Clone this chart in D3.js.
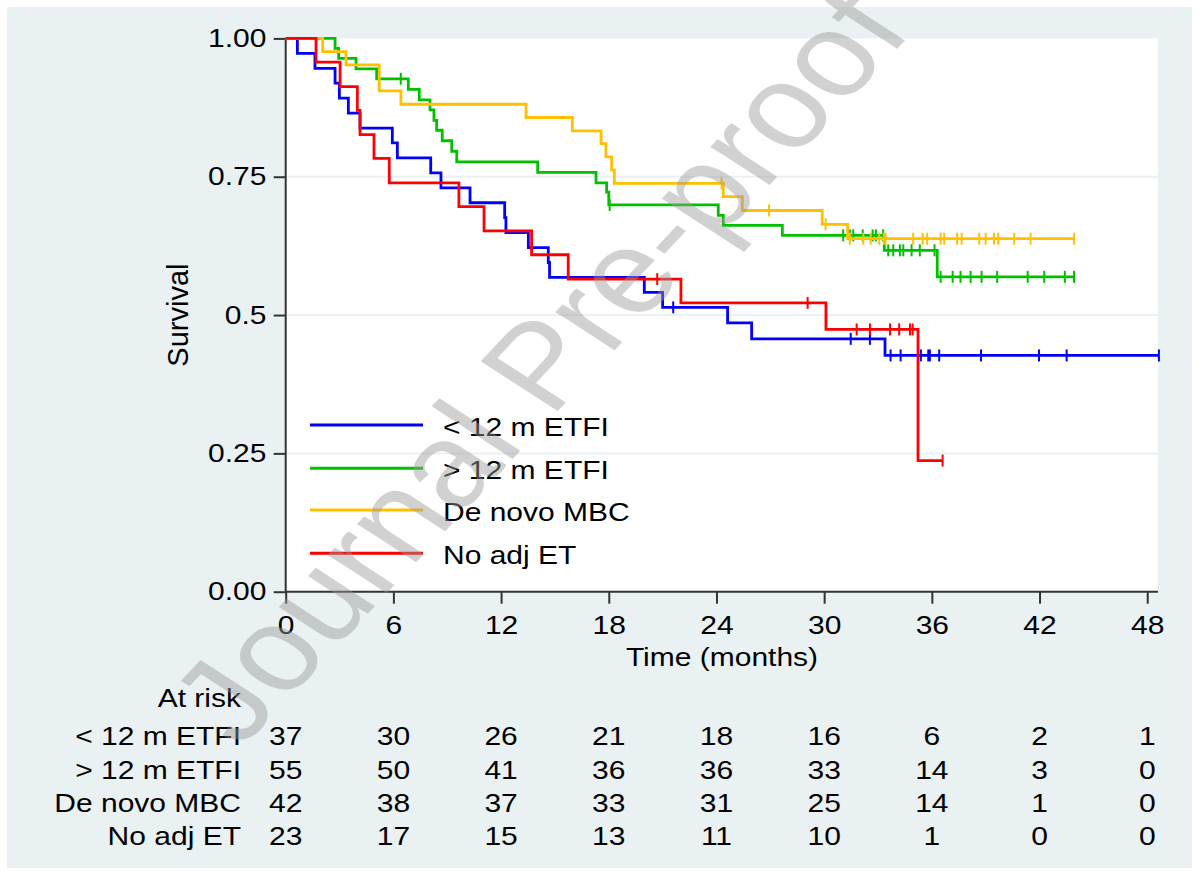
<!DOCTYPE html>
<html>
<head>
<meta charset="utf-8">
<script src="https://cdn.jsdelivr.net/npm/d3@7"></script>
<style>
  html, body { margin: 0; padding: 0; background: #ffffff; }
  svg { display: block; }
  text { font-family: "Liberation Sans", Arial, sans-serif; fill: #000; }
</style>
</head>
<body>
<svg id="chart" width="1199" height="874"></svg>
<script>
// ---------------- data ----------------
const groups = ["< 12 m ETFI", "> 12 m ETFI", "De novo MBC", "No adj ET"];

// Kaplan-Meier event times (months) and survival after each event
const etfiShortTimes = [0.65, 1.63, 2.75, 2.99, 3.49, 4.14, 5.94, 6.22, 8.08, 8.65, 10.27, 12.20, 12.27, 13.52, 14.63, 14.70, 19.98, 21.0, 24.62, 25.96, 33.39];
const etfiShortSurv  = [0.973, 0.946, 0.919, 0.892, 0.865, 0.838, 0.811, 0.784, 0.757, 0.730, 0.703, 0.676, 0.649, 0.622, 0.595, 0.568, 0.541, 0.514, 0.486, 0.457, 0.427];
const etfiShortCensor = [21.59, 31.48, 32.55, 33.7, 34.26, 35.39, 35.8, 35.89, 36.41, 38.74, 41.97, 43.51, 48.65];

const etfiLongTimes = [2.75, 2.95, 3.92, 5.07, 6.83, 7.44, 8.04, 8.26, 8.41, 8.72, 9.25, 9.53, 14.04, 17.29, 17.88, 18.0, 24.1, 24.38, 27.67, 33.35, 36.3];
const etfiLongSurv  = [0.982, 0.964, 0.945, 0.927, 0.908, 0.889, 0.871, 0.852, 0.834, 0.815, 0.796, 0.777, 0.758, 0.739, 0.722, 0.699, 0.680, 0.662, 0.644, 0.617, 0.569];
const etfiLongCensor = [6.41, 18.05, 31.06, 31.43, 31.62, 32.15, 32.7, 32.88, 33.29, 33.57, 33.85, 34.22, 34.41, 34.87, 35.33, 36.15, 36.49, 37.16, 37.6, 38.16, 38.77, 39.64, 41.34, 42.26, 43.41, 43.92];

const deNovoTimes = [2.06, 3.36, 5.21, 6.42, 13.39, 15.97, 17.57, 17.84, 18.16, 18.31, 24.38, 25.44, 29.89, 31.31];
const deNovoSurv  = [0.976, 0.952, 0.905, 0.881, 0.857, 0.833, 0.810, 0.786, 0.762, 0.738, 0.714, 0.689, 0.664, 0.638];
const deNovoCensor = [24.29, 26.93, 30.08, 31.43, 32.18, 32.59, 33.07, 33.33, 33.42, 34.96, 35.49, 35.74, 36.49, 36.69, 37.41, 37.66, 38.64, 39.0, 39.46, 39.7, 40.59, 41.5, 43.93];

const noAdjTimes = [1.69, 3.03, 3.99, 4.14, 4.92, 5.77, 9.65, 11.05, 13.7, 15.74, 22.02, 30.1, 35.23];
const noAdjSurv  = [0.957, 0.913, 0.870, 0.826, 0.783, 0.739, 0.696, 0.652, 0.609, 0.565, 0.522, 0.474, 0.237];
const noAdjCensor = [20.7, 29.08, 31.81, 32.55, 33.67, 34.18, 34.78, 34.93, 36.6];

// axis ticks
const xTicks = [0, 6, 12, 18, 24, 30, 36, 42, 48];
const yTicks = [0, 0.25, 0.5, 0.75, 1];
const yTickLabels = ["0.00", "0.25", "0.5", "0.75", "1.00"];

// numbers at risk at each x tick
const atRiskShort  = [37, 30, 26, 21, 18, 16, 6, 2, 1];
const atRiskLong   = [55, 50, 41, 36, 36, 33, 14, 3, 0];
const atRiskDeNovo = [42, 38, 37, 33, 31, 25, 14, 1, 0];
const atRiskNoAdj  = [23, 17, 15, 13, 11, 10, 1, 0, 0];

// ---------------- layout / style ----------------
const colors = ["#0000FF", "#00C000", "#FFC000", "#FF0000"];
const FONT = 25, SX = 1.2;
const bg = "#E9F1F3";

const svg = d3.select("#chart");
const x = d3.scaleLinear().domain([0, 48.6]).range([285.7, 1158]);
const y = d3.scaleLinear().domain([0, 1]).range([591.7, 38.4]);

function stext(g, tx, ty, str, anchor, size, extra) {
  const t = g.append("text")
    .attr("transform", `translate(${tx},${ty}) scale(${SX},1)` + (extra || ""))
    .attr("text-anchor", anchor || "start")
    .style("font-size", (size || FONT) + "px")
    .text(str);
  return t;
}

// outer background
svg.append("rect").attr("x", 0).attr("y", 0).attr("width", 1199).attr("height", 874).attr("fill", "#fff");
svg.append("rect").attr("x", 7).attr("y", 7).attr("width", 1185).attr("height", 861).attr("fill", bg);
// plot region
svg.append("rect").attr("x", x(0)).attr("y", y(1))
  .attr("width", x(48.6) - x(0)).attr("height", y(0) - y(1)).attr("fill", "#fff");

// grid lines
svg.append("g").selectAll("line").data([0.25, 0.5, 0.75]).join("line")
  .attr("x1", x(0)).attr("x2", x(48.6))
  .attr("y1", d => y(d)).attr("y2", d => y(d))
  .attr("stroke", bg).attr("stroke-width", 2);

// axes
const yAxis = svg.append("g").attr("transform", `translate(${x(0)},0)`)
  .call(d3.axisLeft(y).tickValues(yTicks).tickSize(12).tickPadding(4)
    .tickFormat((d, i) => yTickLabels[i]));
const xAxis = svg.append("g").attr("transform", `translate(0,${y(0)})`)
  .call(d3.axisBottom(x).tickValues(xTicks).tickSize(12).tickPadding(13));
[yAxis, xAxis].forEach(a => {
  a.select(".domain").attr("stroke", "#333").attr("stroke-width", 2);
  a.selectAll(".tick line").attr("stroke", "#333").attr("stroke-width", 2);
  a.selectAll(".tick text").style("font-size", FONT + "px")
    .style("font-family", '"Liberation Sans", Arial, sans-serif').attr("fill", "#000");
});
yAxis.selectAll(".tick text").attr("transform", `scale(${SX},1)`);
xAxis.selectAll(".tick text").attr("transform", `scale(${SX},1)`);
yAxis.select(".domain").attr("d", `M0,${y(0)}V${y(1)}`);
xAxis.select(".domain").attr("d", `M${x(0)},0H${x(48.6)}`);

// axis titles
stext(svg, 722, 666, "Time (months)", "middle");
svg.append("text")
  .attr("transform", `translate(188,${(y(0) + y(1)) / 2}) rotate(-90)`)
  .attr("text-anchor", "middle").style("font-size", "29px").text("Survival");

// curves
const series = [
  { times: etfiShortTimes, surv: etfiShortSurv, censor: etfiShortCensor },
  { times: etfiLongTimes, surv: etfiLongSurv, censor: etfiLongCensor },
  { times: deNovoTimes, surv: deNovoSurv, censor: deNovoCensor },
  { times: noAdjTimes, surv: noAdjSurv, censor: noAdjCensor }
];
const line = d3.line().x(d => x(d[0])).y(d => y(d[1])).curve(d3.curveStepAfter);
function survAt(s, t) {
  let v = 1;
  s.times.forEach((tt, i) => { if (tt <= t) v = s.surv[i]; });
  return v;
}
const curves = svg.append("g");
series.forEach((s, i) => {
  const end = d3.max(s.censor.concat(s.times));
  const pts = [[0, 1]].concat(s.times.map((t, k) => [t, s.surv[k]]));
  pts.push([end, s.surv[s.surv.length - 1]]);
  curves.append("path").attr("d", line(pts)).attr("fill", "none")
    .attr("stroke", colors[i]).attr("stroke-width", 2.8);
  curves.append("g").selectAll("line").data(s.censor).join("line")
    .attr("x1", d => x(d)).attr("x2", d => x(d))
    .attr("y1", d => y(survAt(s, d)) - 6).attr("y2", d => y(survAt(s, d)) + 6)
    .attr("stroke", colors[i]).attr("stroke-width", 2);
});

// legend
const legendY = [425, 468.3, 510, 553.3];
const legend = svg.append("g");
groups.forEach((g, i) => {
  legend.append("line").attr("x1", 310).attr("x2", 423).attr("y1", legendY[i]).attr("y2", legendY[i])
    .attr("stroke", colors[i]).attr("stroke-width", 3);
  stext(legend, 443, legendY[i] + 11, g, "start");
});

// at-risk table
const table = svg.append("g");
stext(table, 241, 707, "At risk", "end");
const atRisk = [atRiskShort, atRiskLong, atRiskDeNovo, atRiskNoAdj];
const rowY = [745, 779, 812, 845];
groups.forEach((g, i) => {
  stext(table, 241, rowY[i], g, "end");
  atRisk[i].forEach((v, k) => stext(table, x(xTicks[k]), rowY[i], String(v), "middle"));
});

// watermark
svg.append("text")
  .attr("transform", `translate(538,365) scale(${SX},1) rotate(-52)`)
  .attr("text-anchor", "middle").attr("dy", "0.35em")
  .style("font-size", "118px").style("fill", "#9a9a9a").style("opacity", 0.45)
  .text("Journal Pre-proof");
</script>
</body>
</html>
